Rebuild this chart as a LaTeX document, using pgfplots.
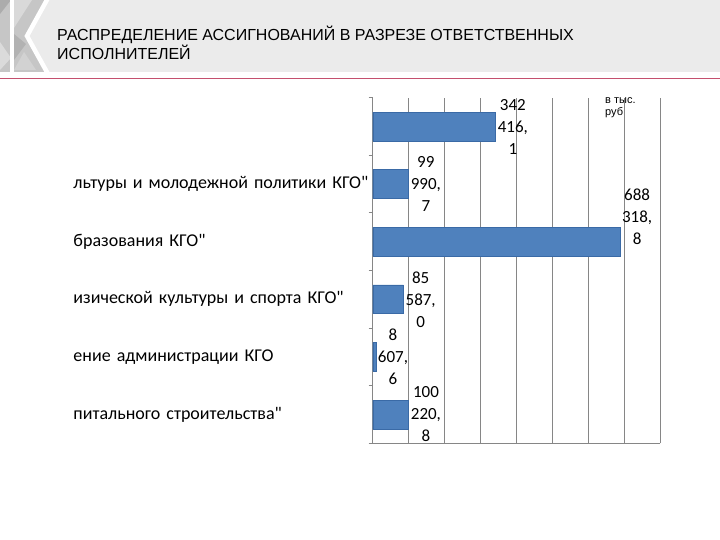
\documentclass[border=0pt]{standalone}
\usepackage{fontspec}
\setmainfont{Carlito}[Ligatures=TeXOff]
\newfontfamily\arialfont{Liberation Sans}
\usepackage{pgfplots}
\usepackage{pgfplotstable}
\pgfplotsset{compat=1.18}
\definecolor{barblue}{HTML}{4F81BD}
\definecolor{baredge}{HTML}{3A6AA6}
\definecolor{gridgray}{HTML}{868686}
\definecolor{headgray}{HTML}{EBEBEB}
\definecolor{redline}{HTML}{C4506E}

% idx: 6 = top bar; dy = vertical shift of value label (pt)
\pgfplotstableread{
idx val lbl dy
6 342416.1 {342\\416,\\1} 0
5 99990.7 {99\\990,\\7} 0
4 688318.8 {688\\318,\\8} 25
3 85587.0 {85\\587,\\0} 0
2 8607.6 {8\\607,\\6} 0
1 100220.8 {100\\220,\\8} 0
}\assign

\begin{document}
\begin{tikzpicture}[x=1pt,y=1pt]
\fill[white] (0,0) rectangle (720,540);
\useasboundingbox (0,0) rectangle (720,540);
% header
\fill[headgray] (0,468) rectangle (720,540);
\fill[gray!45] (0,540)--(47,540)--(27,504)--(47,468)--(0,468)--cycle;
\fill[gray!65] (0,526)--(11,540)--(0,540)--cycle;
\fill[gray!30] (14,540)--(32,540)--(14,512)--cycle;
\fill[gray!60] (14,506)--(26,496)--(14,480)--cycle;
\fill[gray!28] (0,498)--(11,482)--(0,470)--cycle;
\fill[gray!35] (14,470)--(36,470)--(24,488)--cycle;
\draw[white, line width=4pt] (12,540)--(12,468);
\draw[white, line width=4.5pt] (48,542)--(27,504)--(48,466);
\draw[redline, line width=1.6pt] (0,461.5)--(720,461.5);
\node[anchor=base west, inner sep=0, font=\arialfont\fontsize{16}{19}\selectfont]
  at (57,499.3) {РАСПРЕДЕЛЕНИЕ АССИГНОВАНИЙ В РАЗРЕЗЕ ОТВЕТСТВЕННЫХ};
\node[anchor=base west, inner sep=0, font=\arialfont\fontsize{16}{19}\selectfont]
  at (57,480.7) {ИСПОЛНИТЕЛЕЙ};
\node[anchor=base west, inner sep=0, font=\arialfont\fontsize{11}{12}\selectfont]
  at (605,436.5) {в тыс.};
\node[anchor=base west, inner sep=0, font=\arialfont\fontsize{11}{12}\selectfont]
  at (605,424.5) {руб};

\begin{axis}[
  at={(372.7pt,96.7pt)}, anchor=south west,
  scale only axis, width=287.3pt, height=345.6pt,
  xbar, bar width=0.5, bar shift=0pt,
  xmin=0, xmax=800000,
  ymin=0.5, ymax=6.5,
  axis x line*=bottom, axis y line*=left,
  axis line style={draw=gridgray, line width=0.9pt},
  xtick={0,100000,...,800000}, scaled x ticks=false,
  xticklabels={{},{},{},{},{},{},{},{},{}},
  xmajorgrids, grid style={draw=gridgray, line width=0.9pt},
  ytick={1,...,6},
  yticklabels={{питального строительства"}, {ение администрации КГО},
    {изической культуры и спорта КГО"}, {бразования КГО"},
    {льтуры и молодежной политики КГО"}, {}},
  minor ytick={0.5,1.5,...,6.5},
  major tick length=0pt, minor tick length=4pt, tick align=outside,
  minor tick style={draw=gridgray, line width=0.9pt},
  yticklabel style={text width=299pt, align=left, inner sep=0pt,
    font=\fontsize{18}{22}\selectfont},
]
\addplot[fill=barblue, draw=baredge,
  nodes near coords, point meta=explicit symbolic,
  visualization depends on={\thisrow{dy}\as\dy},
  every node near coord/.append style={anchor=west, align=center,
    font=\fontsize{17}{22}\selectfont, text=black, yshift=\dy, inner sep=2pt},
] table[x=val, y=idx, meta=lbl] {\assign};
\end{axis}
\end{tikzpicture}
\end{document}
